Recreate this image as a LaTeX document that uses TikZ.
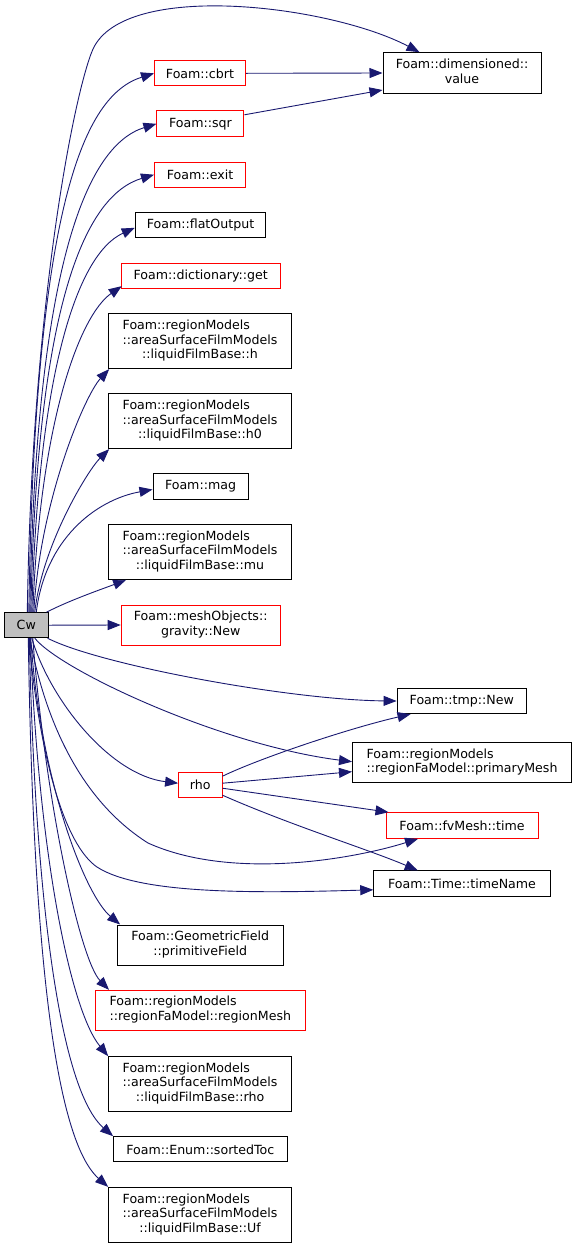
\documentclass[tikz,border=0pt]{standalone}
\usepackage{fontspec}
\setmainfont{DejaVu Sans}
\usetikzlibrary{arrows.meta,calc}
\definecolor{edgeblue}{HTML}{191970}
\definecolor{nodered}{HTML}{FF0000}
\definecolor{cwgray}{HTML}{BFBFBF}
\newcommand{\mylbl}[2]{\begin{tabular}{@{}l@{}}#1\\\multicolumn{1}{@{}c@{}}{#2}\end{tabular}}
\begin{document}
\begin{tikzpicture}[x=1pt,y=-1pt,
  box/.style={draw=black, fill=white, line width=1pt, inner sep=0pt, font=\fontsize{12.6}{14.5}\selectfont},
  rbox/.style={box, draw=nodered},
  conn/.style={draw=edgeblue, line width=0.9pt, -{Triangle[length=13pt,width=10pt]}},
]
\useasboundingbox (0,0) rectangle (577,1248);
% nodes
\node[box, fill=cwgray, minimum width=43.5, minimum height=25] (Cw) at (26.3,625.2) {Cw};
\node[box, minimum width=158, minimum height=40.6] (value) at (462,73) {\mylbl{Foam::dimensioned::}{value}};
\node[rbox, minimum width=91, minimum height=25.3] (cbrt) at (200,73.3) {Foam::cbrt};
\node[rbox, minimum width=87, minimum height=25.7] (sqr) at (200.4,123.8) {Foam::sqr};
\node[rbox, minimum width=91, minimum height=25.3] (exit) at (200,174.7) {Foam::exit};
\node[box, minimum width=130.5, minimum height=25.3] (flat) at (200.5,225.3) {Foam::flatOutput};
\node[rbox, minimum width=159, minimum height=25.3] (get) at (200.7,276) {Foam::dictionary::get};
\node[box, minimum width=182.7, minimum height=54.7] (h) at (200,341.3) {\mylbl{Foam::regionModels\\::areaSurfaceFilmModels}{::liquidFilmBase::h}};
\node[box, minimum width=182.7, minimum height=54.7] (h0) at (200,421.3) {\mylbl{Foam::regionModels\\::areaSurfaceFilmModels}{::liquidFilmBase::h0}};
\node[box, minimum width=95, minimum height=25.7] (mag) at (200.5,486.5) {Foam::mag};
\node[box, minimum width=182.7, minimum height=54.7] (mu) at (200,552) {\mylbl{Foam::regionModels\\::areaSurfaceFilmModels}{::liquidFilmBase::mu}};
\node[rbox, minimum width=159, minimum height=40] (gravity) at (200.7,625) {\mylbl{Foam::meshObjects::}{gravity::New}};
\node[box, minimum width=129.5, minimum height=25.3] (tmp) at (461.8,701) {Foam::tmp::New};
\node[box, minimum width=219, minimum height=40] (pmesh) at (462,762.7) {\mylbl{Foam::regionModels}{::regionFaModel::primaryMesh}};
\node[rbox, minimum width=43.4, minimum height=25] (rho) at (200.3,785.2) {rho};
\node[rbox, minimum width=152, minimum height=25.6] (fvtime) at (462,825.5) {Foam::fvMesh::time};
\node[box, minimum width=176.5, minimum height=25.7] (timename) at (462,883.8) {Foam::Time::timeName};
\node[box, minimum width=165.4, minimum height=40] (prim) at (200.3,945) {\mylbl{Foam::GeometricField}{::primitiveField}};
\node[rbox, minimum width=209.6, minimum height=40] (regmesh) at (200.3,1010.3) {\mylbl{Foam::regionModels}{::regionFaModel::regionMesh}};
\node[box, minimum width=182.7, minimum height=54.7] (lfbrho) at (200,1084) {\mylbl{Foam::regionModels\\::areaSurfaceFilmModels}{::liquidFilmBase::rho}};
\node[box, minimum width=173.5, minimum height=25.3] (sorted) at (200.3,1149.3) {Foam::Enum::sortedToc};
\node[box, minimum width=182.7, minimum height=54.7] (uf) at (200,1214.7) {\mylbl{Foam::regionModels\\::areaSurfaceFilmModels}{::liquidFilmBase::Uf}};
% upward edges
\draw[conn] ($(Cw.north)+(1,0)$) .. controls (32,300) and (75,90) .. (93,49) .. controls (125,-20) and (330,5) .. ($(value.north west)+(37,0)$);
\draw[conn] ($(Cw.north)+(2.5,0)$) .. controls (35,200) and (85,95) .. (cbrt.west);
\draw[conn] ($(Cw.north)+(3.5,0)$) .. controls (36,260) and (88,145) .. (sqr.west);
\draw[conn] ($(Cw.north)+(4.5,0)$) .. controls (37,300) and (86,195) .. (exit.west);
\draw[conn] ($(Cw.north)+(5.5,0)$) .. controls (38,380) and (75,255) .. ($(flat.west)+(0,2.5)$);
\draw[conn] ($(Cw.north)+(6.5,0)$) .. controls (40,420) and (80,315) .. ($(get.south west)+(1,-3)$);
\draw[conn] ($(Cw.north)+(7.5,0)$) .. controls (40,500) and (85,395) .. ($(h.south west)+(1,0)$);
\draw[conn] ($(Cw.north)+(8.5,0)$) .. controls (42,545) and (88,470) .. ($(h0.south west)+(1,0)$);
\draw[conn] ($(Cw.north)+(10,0)$) .. controls (45,540) and (95,500) .. ($(mag.west)+(0,3)$);
\draw[conn] ($(Cw.north east)+(-2,0)$) .. controls (70,600) and (105,588) .. ($(mu.south west)+(18,0)$);
\draw[conn] (Cw.east) -- (gravity.west);
% downward edges
\draw[conn] ($(Cw.south east)+(-1,0)$) .. controls (100,665) and (290,700) .. (tmp.west);
\draw[conn] ($(Cw.south)+(8.5,0)$) .. controls (60,670) and (220,745) .. ($(pmesh.west)+(0,-1)$);
\draw[conn] ($(Cw.south)+(5.5,0)$) .. controls (50,700) and (110,775) .. ($(rho.west)+(0,-2)$);
\draw[conn] ($(Cw.south)+(3.5,0)$) .. controls (45,720) and (80,800) .. (148,843) .. controls (230,880) and (350,860) .. ($(fvtime.south west)+(32.5,0)$);
\draw[conn] ($(Cw.south)+(2.5,0)$) .. controls (40,760) and (65,845) .. (97,867) .. controls (140,895) and (260,893) .. ($(timename.west)+(0,6)$);
\draw[conn] ($(Cw.south)+(4.5,0)$) .. controls (40,780) and (85,895) .. ($(prim.north west)+(3,0)$);
\draw[conn] ($(Cw.south)+(6.5,0)$) .. controls (45,800) and (80,960) .. ($(regmesh.north west)+(14,0)$);
\draw[conn] ($(Cw.south)+(4,0)$) .. controls (38,850) and (70,1010) .. (lfbrho.north west);
\draw[conn] ($(Cw.south)+(3,0)$) .. controls (35,900) and (60,1090) .. (sorted.north west);
\draw[conn] ($(Cw.south)+(2,0)$) .. controls (33,950) and (55,1140) .. (uf.north west);
% rho edges
\draw[conn] ($(rho.east)+(0,-9)$) .. controls (260,758) and (350,728) .. ($(tmp.south west)+(14,0)$);
\draw[conn] ($(rho.east)+(0,-2)$) -- ($(pmesh.west)+(0,9)$);
\draw[conn] ($(rho.east)+(0,3)$) -- ($(fvtime.north west)+(3,0)$);
\draw[conn] ($(rho.east)+(0,10)$) .. controls (290,825) and (370,850) .. ($(timename.north west)+(44.5,0)$);
% value edges
\draw[conn] (cbrt.east) -- (value.west);
\draw[conn] ($(sqr.east)+(0,-9)$) -- ($(value.west)+(0,17)$);
\end{tikzpicture}
\end{document}
